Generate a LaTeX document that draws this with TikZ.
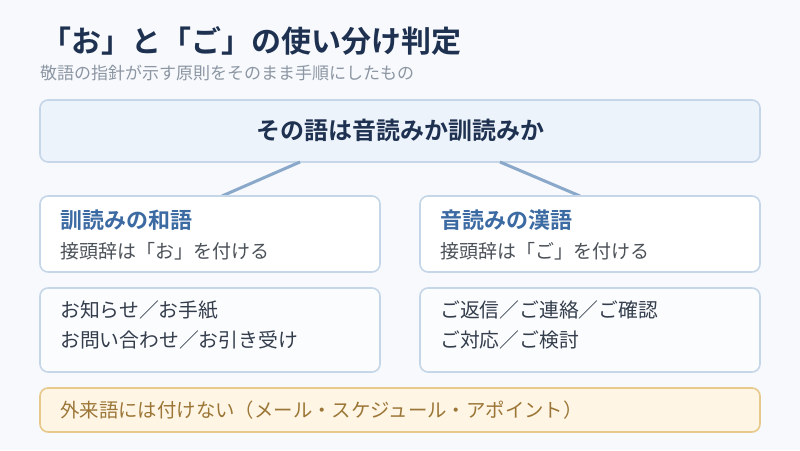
\documentclass[tikz,border=0pt]{standalone}
\usepackage{fontspec}
\setmainfont{Noto Sans CJK JP}[BoldFont={Noto Sans CJK JP Bold}]
\definecolor{bgc}{HTML}{F7F9FC}
\definecolor{navy}{HTML}{1E3150}
\definecolor{subg}{HTML}{8C96A3}
\definecolor{topfill}{HTML}{EDF3FB}
\definecolor{bordc}{HTML}{C6D6E9}
\definecolor{linkc}{HTML}{8AA8C9}
\definecolor{headb}{HTML}{3C6AA3}
\definecolor{bodyg}{HTML}{4B5158}
\definecolor{exfill}{HTML}{FBFCFE}
\definecolor{extext}{HTML}{333D4B}
\definecolor{warnfill}{HTML}{FEF5E5}
\definecolor{warnbord}{HTML}{E8C98C}
\definecolor{warntext}{HTML}{9B7636}
\begin{document}
\begin{tikzpicture}[x=1pt,y=-1pt,
  card/.style={draw=bordc,line width=1.6pt,rounded corners=8pt},
  lbl/.style={anchor=west,inner sep=0pt},
  link/.style={draw=linkc,line width=3pt},
  head/.style={lbl,text=headb,font=\bfseries\fontsize{22}{26}\selectfont},
  body/.style={lbl,text=bodyg,font=\fontsize{19}{22}\selectfont},
  ex/.style={lbl,text=extext,font=\fontsize{19.8}{22}\selectfont}]
\useasboundingbox[fill=bgc] (0,0) rectangle (800,450);
\node[lbl,text=navy,font=\bfseries\fontsize{30}{34}\selectfont] (title) at (41,41) {「お」と「ご」の使い分け判定};
\node[lbl,text=subg,font=\fontsize{17}{20}\selectfont] (sub) at (40,73) {敬語の指針が示す原則をそのまま手順にしたもの};
% top question
\draw[card,fill=topfill] (40,100) rectangle (760,162);
\node[text=navy,font=\bfseries\fontsize{24}{28}\selectfont,inner sep=0pt] (q) at (400,130) {その語は音読みか訓読みか};
\coordinate (qL) at (300,162);
\coordinate (qR) at (500,162);
\coordinate (aL) at (222,196);
\coordinate (aR) at (580,196);
\draw[link] (qL) -- (aL);
\draw[link] (qR) -- (aR);
% answer cards
\draw[card,fill=white] (40,196) rectangle (380,272);
\draw[card,fill=white] (420,196) rectangle (760,272);
\node[head] (wh) at (60,220) {訓読みの和語};
\node[body] (wb) at (60,251) {接頭辞は「お」を付ける};
\node[head] (kh) at (440,220) {音読みの漢語};
\node[body] (kb) at (440,251) {接頭辞は「ご」を付ける};
% example cards
\draw[card,fill=exfill] (40,288) rectangle (380,372);
\draw[card,fill=exfill] (420,288) rectangle (760,372);
\node[ex] (we1) at (60,310) {お知らせ／お手紙};
\node[ex] (we2) at (60,340) {お問い合わせ／お引き受け};
\node[ex] (ke1) at (440,310) {ご返信／ご連絡／ご確認};
\node[ex] (ke2) at (440,340) {ご対応／ご検討};
% warning
\draw[card,draw=warnbord,fill=warnfill] (40,388) rectangle (760,432);
\node[lbl,text=warntext,font=\fontsize{19.4}{22}\selectfont] (w) at (60,410) {外来語には付けない（メール・スケジュール・アポイント）};
\end{tikzpicture}
\end{document}
